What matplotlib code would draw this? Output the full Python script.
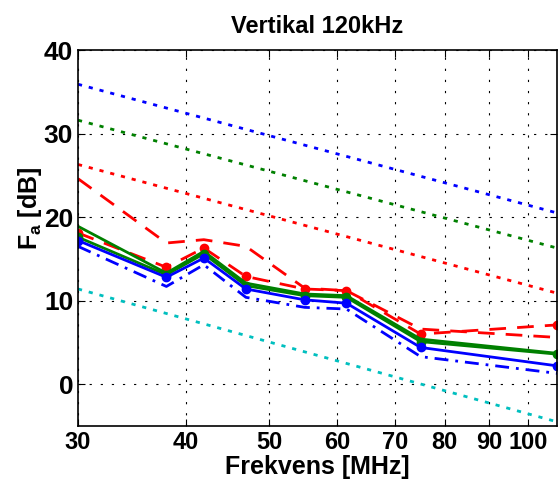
import matplotlib.pyplot as plt
from matplotlib.ticker import FixedLocator, FixedFormatter, NullLocator

plt.rcParams['font.family'] = ['Liberation Sans', 'DejaVu Sans']
plt.rcParams['font.weight'] = 'bold'
plt.rcParams['mathtext.default'] = 'regular'

# measured frequencies [MHz]
freq = [30, 38, 42, 47, 55, 61.5, 75, 108]

# measured noise curves [dB]
red_dash = [24.6, 16.9, 17.3, 16.5, 11.5, 11.2, 6.6, 5.6]
red_mark = [18.1, 14.0, 16.3, 12.9, 11.4, 11.2, 6.0, 7.1]
green_solid = [18.9, 13.3, 15.9, 12.1, 10.8, 10.6, 5.4, 3.7]
green_mark = [17.6, 13.1, 15.6, 11.8, 10.6, 10.4, 5.1, 3.6]
blue_mark = [17.2, 12.8, 15.1, 11.4, 10.1, 9.7, 4.4, 2.2]
blue_dashdot = [16.5, 11.7, 14.3, 10.4, 9.2, 9.0, 3.3, 1.3]

# reference environment curves (end points at 30 and 108 MHz)
ref_freq = [30, 108]
city = [35.9, 20.5]
residential = [31.6, 16.3]
rural = [26.3, 10.9]
quiet_rural = [11.4, -4.5]

xticks = [30, 40, 50, 60, 70, 80, 90, 100]
yticks = [0, 10, 20, 30, 40]

fig = plt.figure(figsize=(5.58, 4.95), dpi=100)
ax = fig.add_axes([78 / 558, 69 / 495, 479 / 558, 376 / 495])

dot = (0, (1.5, 2.5))
ax.plot(ref_freq, city, color='b', lw=2, ls=dot)
ax.plot(ref_freq, residential, color='g', lw=2, ls=dot)
ax.plot(ref_freq, rural, color='r', lw=2, ls=dot)
ax.plot(ref_freq, quiet_rural, color='c', lw=2, ls=dot)

ax.plot(freq, red_dash, color='r', lw=2, ls=(0, (6, 4)))
ax.plot(freq, red_mark, color='r', lw=2, ls=(0, (6, 4)), marker='.', ms=12)
ax.plot(freq, green_solid, color='g', lw=2, ls='-')
ax.plot(freq, green_mark, color='g', lw=2, ls='-', marker='.', ms=12)
ax.plot(freq, blue_mark, color='b', lw=2, ls='-', marker='.', ms=12)
ax.plot(freq, blue_dashdot, color='b', lw=2, ls=(0, (5, 2.5, 1, 2.5)))

ax.set_xscale('log')
ax.set_xlim(30, 108)
ax.set_ylim(-5, 40)
ax.xaxis.set_major_locator(FixedLocator(xticks))
ax.xaxis.set_major_formatter(FixedFormatter([str(t) for t in xticks]))
ax.xaxis.set_minor_locator(NullLocator())
ax.set_yticks(yticks)

ax.grid(True, color='k', lw=0.8, ls=(0, (2, 8)))
ax.tick_params(direction='in', top=True, right=True, length=5)
ax.tick_params(axis='x', labelsize=17)
ax.tick_params(axis='y', labelsize=19)
for s in ax.spines.values():
    s.set_linewidth(1.2)

ax.set_title('Vertikal 120kHz', fontsize=17, fontweight='bold', pad=12)
ax.set_xlabel('Frekvens [MHz]', fontsize=18, fontweight='bold', labelpad=1)
ax.set_ylabel('F$_a$ [dB]', fontsize=18, fontweight='bold')
ax.yaxis.set_label_coords(-0.07, 0.58)

plt.savefig('out.png', dpi=100)
